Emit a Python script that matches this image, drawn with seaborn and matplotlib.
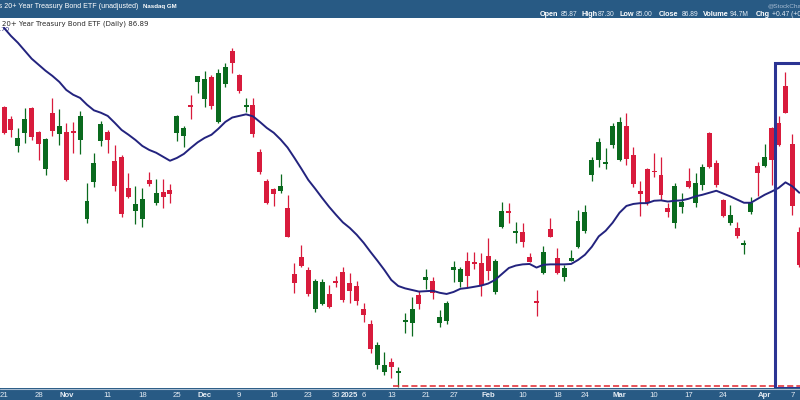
import numpy as np
import pandas as pd
import matplotlib
matplotlib.use("Agg")
import matplotlib.pyplot as plt
from matplotlib.patches import Rectangle
import seaborn as sns

# TLT daily candles, one entry per trading day (Oct 21 2024 -> Apr 8 2025)
opens = [92.83, 92.53, 91.85, 92.18, 92.81, 92.21, 91.28, 92.68, 92.15, 92.21,
         92.23, 92.00, 90.03, 90.95, 91.98, 92.20, 91.48, 91.58, 90.80, 90.23,
         90.03, 91.00, 90.43, 90.70, 90.75, 92.17, 92.11, 92.85, 93.44, 93.03,
         93.57, 92.46, 93.40, 94.23, 93.63, 92.82, 92.87, 91.70, 90.98, 90.78,
         90.73, 90.29, 88.65, 89.07, 88.75, 87.77, 87.90, 88.15, 88.45, 88.71,
         88.43, 88.36, 87.77, 87.39, 86.38, 86.21, 86.44, 86.17, 87.46, 87.42,
         88.12, 88.50, 88.48, 87.42, 87.48, 88.74, 88.46, 88.97, 88.95, 88.93,
         89.10, 88.21, 89.83, 90.20, 89.67, 89.69, 89.07, 87.98, 88.67, 89.78,
         89.06, 88.57, 88.98, 89.33, 89.73, 91.13, 91.50, 91.41, 91.88, 91.50,
         92.35, 91.63, 90.73, 91.28, 91.21, 91.13, 90.31, 89.93, 90.32, 90.98,
         90.42, 90.88, 92.17, 91.43, 90.50, 89.93, 89.79, 89.37, 90.21, 91.35,
         91.35, 92.29, 92.42, 93.35, 91.90, 89.71]
highs = [92.85, 92.60, 92.30, 92.80, 92.83, 92.22, 92.04, 93.05, 92.78, 92.43,
         92.46, 92.73, 90.93, 91.68, 92.48, 92.25, 91.88, 91.63, 91.18, 90.86,
         90.81, 91.21, 91.03, 91.03, 90.90, 92.63, 92.35, 93.12, 93.61, 93.73,
         93.63, 93.77, 93.93, 94.29, 93.65, 93.06, 93.04, 91.77, 91.02, 90.79,
         91.15, 90.63, 88.93, 89.38, 88.82, 88.52, 88.52, 88.38, 88.60, 88.82,
         88.68, 88.48, 87.92, 87.50, 86.96, 86.71, 86.54, 86.33, 87.68, 88.08,
         88.23, 88.77, 88.57, 87.75, 87.98, 88.97, 88.83, 89.19, 89.21, 89.17,
         89.54, 89.02, 90.46, 90.43, 89.96, 89.93, 89.18, 88.25, 89.36, 90.04,
         89.31, 88.88, 89.25, 90.25, 90.37, 91.58, 92.04, 91.80, 92.43, 92.58,
         92.67, 91.82, 90.98, 91.29, 91.68, 91.57, 90.43, 90.93, 90.67, 91.29,
         91.17, 91.40, 92.21, 91.50, 90.52, 90.38, 89.96, 89.50, 90.58, 91.46,
         91.90, 92.33, 92.60, 93.69, 92.15, 89.83]
lows = [92.15, 92.08, 91.71, 91.93, 92.00, 91.50, 91.13, 92.10, 91.88, 90.98,
        91.68, 91.65, 89.93, 90.83, 91.85, 91.68, 90.73, 90.08, 90.55, 89.90,
        89.83, 90.85, 90.38, 90.31, 90.43, 91.98, 91.83, 92.53, 93.18, 92.82,
        92.77, 92.42, 93.33, 93.67, 93.18, 92.71, 92.07, 91.15, 90.39, 90.35,
        90.67, 89.57, 88.17, 88.83, 88.10, 87.71, 87.88, 87.79, 88.32, 87.96,
        87.92, 87.88, 87.46, 86.67, 86.27, 86.13, 86.04, 85.83, 87.18, 87.10,
        87.78, 88.27, 88.02, 87.33, 87.40, 88.46, 88.33, 88.33, 88.77, 88.11,
        88.50, 88.15, 89.79, 89.92, 89.42, 89.33, 88.94, 87.60, 88.65, 89.57,
        88.65, 88.48, 88.97, 89.29, 89.68, 90.98, 91.33, 91.28, 91.80, 91.48,
        91.38, 90.83, 90.10, 90.38, 91.08, 90.50, 90.08, 89.79, 90.18, 90.79,
        90.33, 90.75, 91.29, 90.83, 90.07, 89.88, 89.54, 89.14, 90.15, 90.60,
        91.32, 90.88, 91.85, 92.67, 90.13, 88.83]
closes = [92.18, 92.25, 92.06, 92.53, 92.08, 91.90, 92.03, 92.23, 92.35, 91.00,
          92.18, 92.60, 90.48, 91.43, 92.40, 92.00, 90.86, 90.15, 90.58, 90.40,
          90.53, 90.90, 90.68, 90.58, 90.64, 92.60, 92.29, 92.82, 93.60, 93.52,
          92.85, 93.68, 93.83, 93.93, 93.23, 92.87, 92.15, 91.21, 90.42, 90.65,
          90.86, 89.58, 88.42, 88.85, 88.14, 88.48, 88.46, 87.82, 88.42, 88.00,
          88.23, 87.98, 87.63, 86.77, 86.88, 86.38, 86.33, 86.23, 87.51, 87.77,
          87.90, 88.58, 88.18, 87.58, 87.92, 88.83, 88.78, 88.60, 88.90, 88.38,
          88.73, 88.97, 90.23, 90.18, 89.70, 89.46, 88.96, 87.93, 89.19, 89.58,
          88.68, 88.79, 89.06, 89.98, 90.19, 91.50, 91.96, 91.43, 92.35, 92.46,
          91.52, 90.90, 90.64, 90.42, 91.19, 90.63, 90.19, 90.85, 90.46, 90.83,
          90.92, 91.32, 91.33, 90.88, 90.10, 90.13, 89.60, 89.40, 90.43, 91.17,
          91.57, 91.50, 91.88, 92.68, 90.35, 88.88]
ma20 = [94.80, 94.60, 94.43, 94.23, 94.03, 93.88, 93.73, 93.60, 93.45, 93.25,
        93.13, 93.05, 92.88, 92.74, 92.68, 92.60, 92.43, 92.25, 92.13, 92.00,
        91.85, 91.75, 91.68, 91.58, 91.48, 91.55, 91.65, 91.80, 91.94, 92.05,
        92.13, 92.28, 92.45, 92.56, 92.60, 92.64, 92.59, 92.45, 92.30, 92.18,
        92.01, 91.81, 91.55, 91.28, 91.00, 90.78, 90.55, 90.33, 90.13, 89.94,
        89.80, 89.63, 89.43, 89.20, 88.98, 88.75, 88.50, 88.35, 88.29, 88.25,
        88.21, 88.22, 88.23, 88.18, 88.15, 88.20, 88.28, 88.30, 88.33, 88.36,
        88.41, 88.50, 88.65, 88.80, 88.86, 88.89, 88.90, 88.81, 88.88, 88.89,
        88.89, 88.89, 88.90, 89.00, 89.13, 89.33, 89.59, 89.73, 89.93, 90.18,
        90.35, 90.40, 90.42, 90.42, 90.48, 90.49, 90.46, 90.48, 90.49, 90.53,
        90.59, 90.63, 90.68, 90.73, 90.66, 90.59, 90.51, 90.43, 90.43, 90.53,
        90.63, 90.71, 90.80, 90.94, 90.84, 90.68]

tick_pos = [0, 5, 9, 15, 20, 25, 29, 34, 39, 44, 48, 50, 52, 56, 61, 65,
            70, 75, 80, 84, 89, 94, 99, 104, 110, 114]
tick_labels = ["21", "28", "Nov", "11", "18", "25", "Dec", "9", "16", "23",
               "30", "2025", "6", "13", "21", "27", "Feb", "10", "18", "24",
               "Mar", "10", "17", "24", "Apr", "7"]
bold_labels = {"Nov", "Dec", "2025", "Feb", "Mar", "Apr"}

support_level = 85.85
support_start = 56.2
box_left = 111.5
box_top = 93.92

stat_names = ["Open", "High", "Low", "Close", "Volume", "Chg"]
stat_values = ["85.87", "87.30", "85.00", "86.89", "94.7M", "+0.47 (+0.54%)"]

RED = "#d81b3c"
GREEN = "#0a6a1e"
NAVY = "#23237e"
BAR = "#285a84"

sns.set_theme(style="white")
plt.rcParams["font.family"] = ["Liberation Sans", "DejaVu Sans"]

df = pd.DataFrame({"day": np.arange(len(opens)), "open": opens, "high": highs,
                   "low": lows, "close": closes, "ma20": ma20})
df["up"] = df["close"] >= df["open"]
colors = np.where(df["up"], GREEN, RED)

fig = plt.figure(figsize=(8, 4), dpi=100)
fig.patch.set_facecolor("white")


def fx(x):
    return x / 800


def fy(y):
    return 1 - y / 400


# header and footer bars
fig.patches.append(Rectangle((0, fy(18.3)), 1, 18.3 / 400, transform=fig.transFigure,
                             facecolor=BAR, edgecolor="none", zorder=-1))
fig.patches.append(Rectangle((0, 0), 1, 12 / 400, transform=fig.transFigure,
                             facecolor=BAR, edgecolor="none", zorder=-1))
fig.lines.append(plt.Line2D([0, 1], [fy(388.6), fy(388.6)], transform=fig.transFigure,
                            color="#a9bdd2", linewidth=0.8, zorder=-0.5))

ax = fig.add_axes([0, 12 / 400, 1, (388 - 18.3) / 400])
ax.set_facecolor("white")

body_lo = df[["open", "close"]].min(axis=1)
body_hi = df[["open", "close"]].max(axis=1)
ax.vlines(df["day"], df["low"], df["high"], colors=colors, linewidth=0.9, zorder=2)
ax.bar(df["day"], (body_hi - body_lo).clip(lower=0.045), bottom=body_lo, width=0.72,
       color=colors, linewidth=0, zorder=3)

sns.lineplot(data=df, x="day", y="ma20", ax=ax, color=NAVY, linewidth=1.4, zorder=4)

ax.hlines(support_level, support_start, len(opens) + 2, colors="#e0242e",
          linestyles=(0, (4, 2)), linewidth=1.1, zorder=5)
ax.add_patch(Rectangle((box_left, 85.80), 10, box_top - 85.80, fill=False,
                       edgecolor="#2b3493", linewidth=2.2, zorder=6))

ax.set_xlim(-0.58, 115.1)
ax.set_ylim(85.80, 95.04)
ax.set_xlabel("")
ax.set_ylabel("")
ax.set_yticks([])
ax.set_xticks(tick_pos)
ax.set_xticklabels(tick_labels, fontsize=5.6, color="#e4ebf3")
for lbl in ax.get_xticklabels():
    if lbl.get_text() in bold_labels:
        lbl.set_fontweight("bold")
ax.tick_params(axis="x", length=0, pad=3)
sns.despine(ax=ax, top=True, right=True, left=True, bottom=True)

# header texts
fig.text(fx(138), fy(6.5), "iShares 20+ Year Treasury Bond ETF (unadjusted)", ha="right",
         va="center", color="white", fontsize=5.1)
fig.text(fx(143), fy(6.8), "Nasdaq GM", ha="left", va="center", color="white",
         fontsize=4.4, fontweight="bold")
fig.text(fx(767), fy(5.5), "@StockCharts.com", ha="left", va="center", color="#a9bdd3",
         fontsize=4.6)

name_x = [540, 581, 620, 659, 703, 756]
value_x = [561, 598, 636, 682, 730, 772]
for nx, vx, name, value in zip(name_x, value_x, stat_names, stat_values):
    fig.text(fx(nx), fy(14.5), name, ha="left", va="center", color="white",
             fontsize=5.2, fontweight="bold")
    fig.text(fx(vx), fy(14.5), value, ha="left", va="center", color="#e4ecf4",
             fontsize=4.9)

fig.text(fx(148), fy(23.3), "iShares 20+ Year Treasury Bond ETF (Daily) 86.89", ha="right",
         va="center", color="#2a2a2a", fontsize=5.0, family="DejaVu Sans")
fig.text(fx(10), fy(29.5), "94.70", ha="right", va="center", color=NAVY, fontsize=4.6,
         family="DejaVu Sans")

fig.savefig("out.png", dpi=100)
